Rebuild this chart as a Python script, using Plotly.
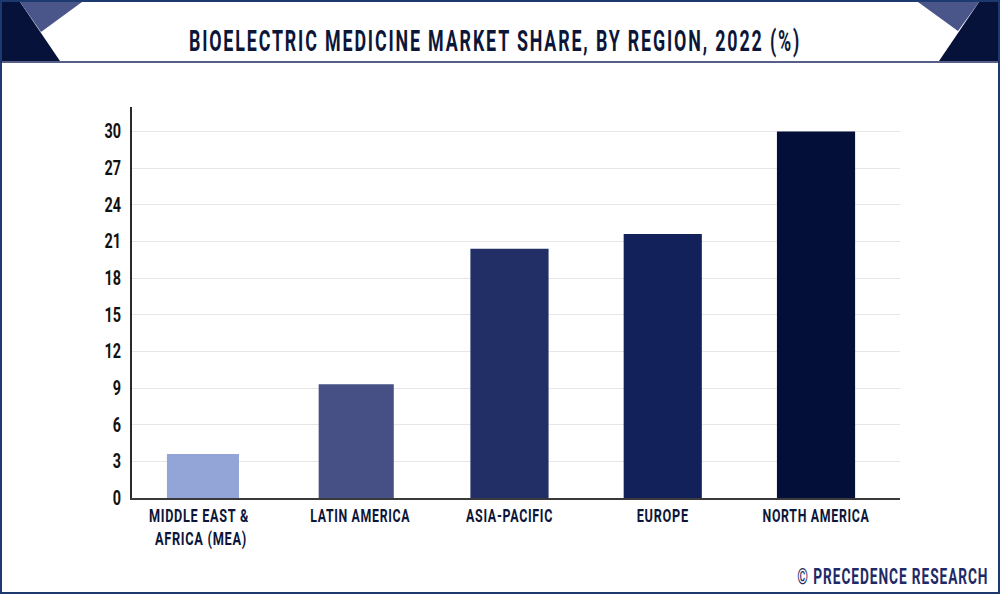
import json
import plotly.graph_objects as go

regions = ["MIDDLE EAST &<br>AFRICA (MEA)", "LATIN AMERICA", "ASIA-PACIFIC", "EUROPE", "NORTH AMERICA"]
share = [3.6, 9.3, 20.4, 21.6, 30.0]
bar_colors = ["#92a5d6", "#465084", "#222e66", "#12215a", "#030f38"]
y_ticks = [0, 3, 6, 9, 12, 15, 18, 21, 24, 27, 30]
title_text = "BIOELECTRIC MEDICINE MARKET SHARE, BY REGION, 2022 (%)"
credit_text = "© PRECEDENCE RESEARCH"

FONT = "Roboto"
NAVY = "#0c1638"
L, R, T, B = 132, 900, 107, 498

def px(x): return (x - L) / (R - L)
def py(y): return (B - y) / (B - T)
def poly(points, color):
    path = "M " + " L ".join(f"{px(x):.4f},{py(y):.4f}" for x, y in points) + " Z"
    return dict(type="path", xref="paper", yref="paper", path=path, fillcolor=color,
                line=dict(width=0), layer="above")

fig = go.Figure(go.Bar(x=regions, y=share, marker=dict(color=bar_colors, line=dict(width=0)),
                       width=[0.47, 0.49, 0.51, 0.51, 0.51], hoverinfo="x+y"))

shapes = [
    dict(type="rect", xref="paper", yref="paper", x0=px(1), x1=px(999), y0=py(593), y1=py(1),
         line=dict(color="#1c3a70", width=2), fillcolor="rgba(0,0,0,0)", layer="below"),
    dict(type="line", xref="paper", yref="paper", x0=px(1), x1=px(999), y0=py(62), y1=py(62),
         line=dict(color="#1c2a60", width=1.5)),
    poly([(2, 2), (20, 2), (60, 61), (2, 61)], "#07123a"),
    poly([(20, 2), (82, 2), (41, 32)], "#4a5589"),
    poly([(998, 2), (979, 2), (939, 61), (998, 61)], "#07123a"),
    poly([(918, 2), (979, 2), (958, 31)], "#4a5589"),
]

annotations = [
    dict(text=credit_text, xref="paper", yref="paper", x=px(892.5), y=py(576), showarrow=False,
         font=dict(family=FONT, size=22, color="#1f2a66", weight=700), xanchor="center", yanchor="middle"),
]

fig.update_layout(
    width=1000, height=594, autosize=False, paper_bgcolor="white", plot_bgcolor="white",
    margin=dict(l=L, r=1000 - R, t=T, b=594 - B, autoexpand=False), showlegend=False,
    title=dict(text=title_text, x=495 / 1000, y=1 - 41 / 594, xref="container", yref="container",
               xanchor="center", yanchor="middle",
               font=dict(family=FONT, size=29, color=NAVY, weight=700)),
    shapes=shapes, annotations=annotations, font=dict(family=FONT, color=NAVY),
    xaxis=dict(type="category", range=[-0.463, 4.548], showgrid=False, ticks="", showline=True,
               linecolor="#3a3a3a", linewidth=2, ticklabelstandoff=0,
               tickfont=dict(size=18, color=NAVY, weight=700)),
    yaxis=dict(range=[0, 32], tickvals=y_ticks, showgrid=True, gridcolor="#e6e6e6", gridwidth=1,
               zeroline=False, ticks="", showline=True, linecolor="#2a2a2a", linewidth=2,
               ticklabelstandoff=5, tickfont=dict(size=20, color="#111111", weight=700)),
)

# Condensed look of the reference: real text is fitted to [width in px, x shift in px, letter spacing].
heading_fit = {title_text: [612, 3], credit_text: [191, 1.5]}
label_fit = {
    "MIDDLE EAST &": [100, -4, 1],
    "AFRICA (MEA)": [92, -2, 1],
    "LATIN AMERICA": [100, 4, 1],
    "ASIA-PACIFIC": [87, 0, 1],
    "EUROPE": [52, 0, 1],
    "NORTH AMERICA": [107, 0, 1],
}
squeeze = ("var HEAD = " + json.dumps(heading_fit, ensure_ascii=False)
           + "; var FIT = " + json.dumps(label_fit, ensure_ascii=False) + """;
var gd = document.querySelector('.plotly-graph-div');
function fit(el, width, dx, sp) {
  el.style.letterSpacing = sp + 'px';
  el.setAttribute('textLength', width);
  el.setAttribute('lengthAdjust', 'spacingAndGlyphs');
  if (dx) el.setAttribute('dx', dx);
}
function squeeze() {
  gd.querySelectorAll('.gtitle, .annotation-text').forEach(function (t) {
    var f = HEAD[t.textContent];
    if (!f) return;
    t.style.letterSpacing = f[1] + 'px';
    var k = f[0] / t.getComputedTextLength();
    t.style.transformBox = 'fill-box';
    t.style.transformOrigin = 'center';
    t.style.transform = 'scaleX(' + k + ')';
  });
  gd.querySelectorAll('.xtick text').forEach(function (t) {
    var lines = t.querySelectorAll('tspan.line');
    var parts = lines.length ? lines : [t];
    parts.forEach(function (p) {
      var f = FIT[p.textContent];
      if (f) fit(p, f[0], f[1], f[2]);
    });
  });
  gd.querySelectorAll('.ytick text').forEach(function (t) {
    t.removeAttribute('textLength');
    t.setAttribute('textLength', t.getComputedTextLength() * 0.72);
    t.setAttribute('lengthAdjust', 'spacingAndGlyphs');
  });
}
squeeze();
setTimeout(squeeze, 50);
""")
fig.write_html("out.html", config=dict(displayModeBar=False),
               post_script="document.body.style.margin='0';" + squeeze)
